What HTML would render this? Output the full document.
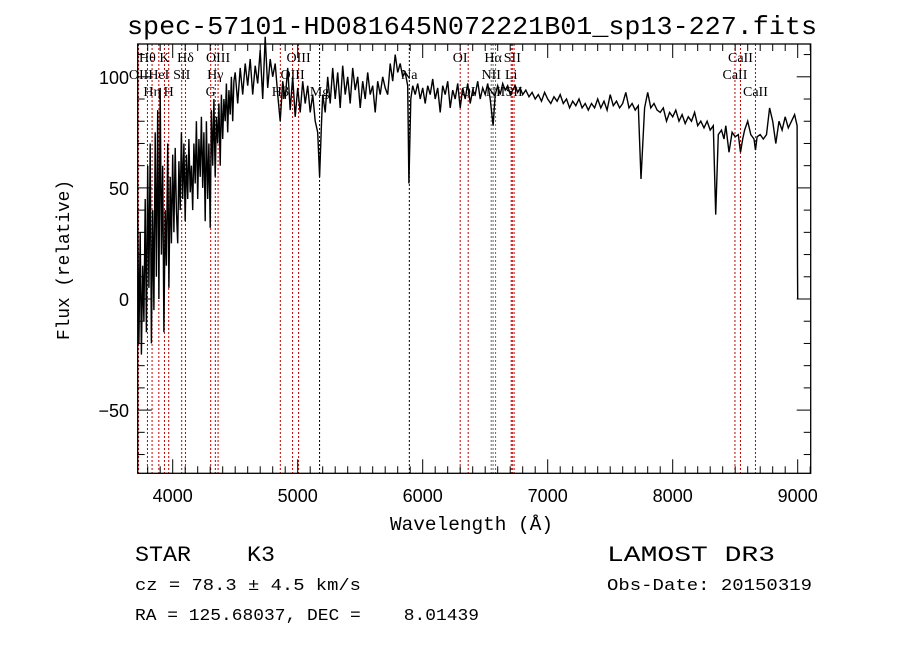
<!DOCTYPE html>
<html><head><meta charset="utf-8"><style>
html,body{margin:0;padding:0;background:#fff;}
svg{display:block;}
text{fill:#000;}
</style></head><body>
<svg id="chart" width="900" height="649" viewBox="0 0 900 649" xmlns="http://www.w3.org/2000/svg">
<rect width="900" height="649" fill="#fff"/>
<text x="127" y="34" font-family="Liberation Mono, monospace" font-size="26" textLength="690" lengthAdjust="spacingAndGlyphs">spec-57101-HD081645N072221B01_sp13-227.fits</text>
<g id="lines"></g>
<g id="spec"></g>
<g id="axes"></g>
<g id="labels"></g>
<text x="390" y="530" font-family="Liberation Mono, monospace" font-size="19" textLength="163" lengthAdjust="spacingAndGlyphs">Wavelength (Å)</text>
<text transform="translate(69,340) rotate(-90)" font-family="Liberation Mono, monospace" font-size="18" textLength="160" lengthAdjust="spacingAndGlyphs">Flux (relative)</text>
<text x="135" y="561" font-family="Liberation Mono, monospace" font-size="22" textLength="140" lengthAdjust="spacingAndGlyphs" xml:space="preserve">STAR    K3</text>
<text x="607" y="561" font-family="Liberation Mono, monospace" font-size="22" textLength="168" lengthAdjust="spacingAndGlyphs">LAMOST DR3</text>
<text x="135" y="590" font-family="Liberation Mono, monospace" font-size="17" textLength="226" lengthAdjust="spacingAndGlyphs">cz = 78.3 ± 4.5 km/s</text>
<text x="607" y="590" font-family="Liberation Mono, monospace" font-size="17" textLength="205" lengthAdjust="spacingAndGlyphs">Obs-Date: 20150319</text>
<text x="135" y="620" font-family="Liberation Mono, monospace" font-size="17" textLength="344" lengthAdjust="spacingAndGlyphs" xml:space="preserve">RA = 125.68037, DEC =    8.01439</text>
</svg>
<script>
var wavelengths = [3720,3730,3740,3750,3760,3770,3780,3790,3800,3810,3820,3830,3840,3850,3860,3870,3880,3890,3900,3910,3920,3930,3940,3950,3960,3970,3980,3990,4000,4010,4020,4030,4040,4050,4060,4070,4080,4090,4100,4110,4120,4130,4140,4150,4160,4170,4180,4190,4200,4210,4220,4230,4240,4250,4260,4270,4280,4290,4300,4310,4320,4330,4340,4350,4360,4370,4380,4390,4400,
4410,4420,4430,4440,4450,4460,4470,4480,4490,4500,4520,4540,4560,4580,4600,4620,4640,4660,4680,4700,4720,4740,4760,4780,4800,4820,4840,4860,4880,4900,4920,4940,4960,4980,5000,5020,5040,5060,5080,5100,5120,5140,5160,5175,5190,
5200,5220,5240,5260,5280,5300,5320,5340,5360,5380,5400,5420,5440,5460,5480,5500,5520,5540,5560,5580,5600,5620,5640,5660,5680,5700,5720,5740,5760,5780,5800,5820,5840,5860,5880,5890,5905,
5920,5940,5960,5980,6000,6020,6040,6060,6080,6100,6120,6140,6160,6180,6200,6220,6240,6260,6280,6300,6320,6340,6360,6380,6400,6420,6440,6460,6480,6500,6520,6540,6563,6580,6600,6620,6640,6660,6680,6700,6720,6740,6760,6780,6800,
6825,6850,6875,6900,6925,6950,6975,7000,7025,7050,7075,7100,7125,7150,7175,7200,7225,7250,7275,7300,7325,7350,7375,7400,7425,7450,7475,7500,7525,7550,7575,7600,7625,7650,7675,7700,7725,7746,7775,7800,7825,7850,7875,7900,7925,7950,7975,8000,8025,8050,8075,8100,8125,8150,8175,8200,8225,8250,8275,8300,8325,8344,8365,8390,8410,8425,8450,8475,8500,8525,8542,8560,8575,8600,8625,8650,8662,8675,8700,8725,8750,8775,8800,8825,8850,8875,8900,8925,8950,8975,8995,8998,9000];
var flux = [40,-20,30,-25,15,-10,45,-15,60,5,70,-20,40,-5,75,10,85,0,95,20,60,-15,40,15,70,5,55,25,65,30,68,40,25,62,40,75,45,70,35,65,45,72,48,60,40,70,52,80,45,72,55,82,50,75,35,80,45,70,32,85,60,90,55,82,70,88,60,92,72,
90,80,97,75,94,83,100,80,98,102,88,104,92,106,96,108,92,105,97,112,90,118,95,108,100,106,92,80,98,90,104,85,100,82,95,84,98,88,96,84,92,80,75,55,78,
92,84,100,88,104,90,102,86,105,92,100,88,104,94,100,86,98,90,102,92,96,84,98,92,100,95,92,106,98,110,102,106,100,102,96,52,90,
96,92,97,90,95,88,96,92,99,90,95,84,96,92,98,86,94,90,97,86,95,90,97,88,94,92,98,90,95,92,97,90,78,92,96,92,97,94,96,92,94,96,93,95,92,
94,91,93,90,92,89,93,90,88,91,89,92,88,90,86,89,87,90,86,88,85,88,86,90,86,89,85,92,87,89,86,88,93,86,88,85,87,54,86,93,86,88,85,84,86,80,84,82,85,80,83,79,82,80,84,78,80,77,80,76,78,38,74,76,72,78,66,75,73,74,66,72,76,80,74,72,67,73,74,72,74,86,80,70,80,76,82,77,80,83,78,15,0];
var xTicks = [4000,5000,6000,7000,8000,9000];
var yTicks = [-50,0,50,100];
var lineWaves = [3727,3798,3835,3889,3934,3968,4072,4102,4304,4341,4363,4861,4959,5007,5175,5893,6300,6364,6548,6563,6583,6708,6717,6731,8498,8542,8662];
var lineColors = ['r','r','r','r','r','r','r','r','r','r','r','r','r','r','k','k','r','r','g','g','g','r','r','r','r','r','r'];
var labelText = ['OII','Hθ','Hη','HeI','K','H','SII','Hδ','G','Hγ','OIII','Hβ','OIII','OIII','Mg','Na','OI','OI','NII','Hα','NII','Li','SII','SII','CaII','CaII','CaII'];
var labelRow = [2,1,3,2,1,3,2,1,3,2,1,3,2,1,3,2,1,3,2,1,3,2,1,3,2,1,3];

var X0=137.7,X1=810.7,Y0=44,Y1=473.3;
function xs(w){return 172.7+(w-4000)*0.125;}
function ys(f){return 299-f*2.222;}
var NS='http://www.w3.org/2000/svg';
function mk(tag,attrs,parent){var e=document.createElementNS(NS,tag);for(var k in attrs)e.setAttribute(k,attrs[k]);parent.appendChild(e);return e;}
var gl=document.getElementById('lines'),gs=document.getElementById('spec'),ga=document.getElementById('axes'),gt=document.getElementById('labels');
var colMap={r:'#c00000',k:'#000',g:'#666'};
for(var i=0;i<lineWaves.length;i++){
  var lx=xs(lineWaves[i]);
  var ln=mk('line',{x1:lx,x2:lx,y1:Y0,y2:Y1,stroke:colMap[lineColors[i]],'stroke-width':1,'stroke-dasharray':'2,2'},gl);
  
  
  var ty=[0,62,79,96][labelRow[i]];
  var t=mk('text',{x:lx,y:ty,'text-anchor':'middle','font-family':'Liberation Serif, serif','font-size':14},gt);
  t.textContent=labelText[i];
  
  
}
var d='';
for(var j=0;j<wavelengths.length;j++){d+=(j?'L':'M')+xs(wavelengths[j]).toFixed(1)+','+ys(flux[j]).toFixed(1);}
var p=mk('path',{d:d,fill:'none',stroke:'#000','stroke-width':1.4,'stroke-linejoin':'miter'},gs);


var fr=mk('rect',{x:X0,y:Y0,width:X1-X0,height:Y1-Y0,fill:'none',stroke:'#000','stroke-width':1.3},ga);


for(var w=3800;w<=9100;w+=100){
  var tx=xs(w),major=(w%1000===0),len=major?14:7;
  mk('line',{x1:tx,x2:tx,y1:Y1,y2:Y1-len,stroke:'#000','stroke-width':1},ga);
  mk('line',{x1:tx,x2:tx,y1:Y0,y2:Y0+len,stroke:'#000','stroke-width':1},ga);
}
for(var k=0;k<xTicks.length;k++){
  var xt=mk('text',{x:xs(xTicks[k]),y:502,'text-anchor':'middle','font-family':'Liberation Sans, sans-serif','font-size':18},ga);
  xt.textContent=String(xTicks[k]);
  
  
}
for(var f=-70;f<=110;f+=10){
  var ty2=ys(f),maj=(f%50===0),l2=maj?14:7;
  mk('line',{x1:X0,x2:X0+l2,y1:ty2,y2:ty2,stroke:'#000','stroke-width':1},ga);
  mk('line',{x1:X1,x2:X1-l2,y1:ty2,y2:ty2,stroke:'#000','stroke-width':1},ga);
}
for(var m=0;m<yTicks.length;m++){
  var yt=mk('text',{x:129,y:ys(yTicks[m])+7,'text-anchor':'end','font-family':'Liberation Sans, sans-serif','font-size':18},ga);
  yt.textContent=yTicks[m]<0?'\u2212'+Math.abs(yTicks[m]):String(yTicks[m]);
  
  
}
</script>
</body></html>
